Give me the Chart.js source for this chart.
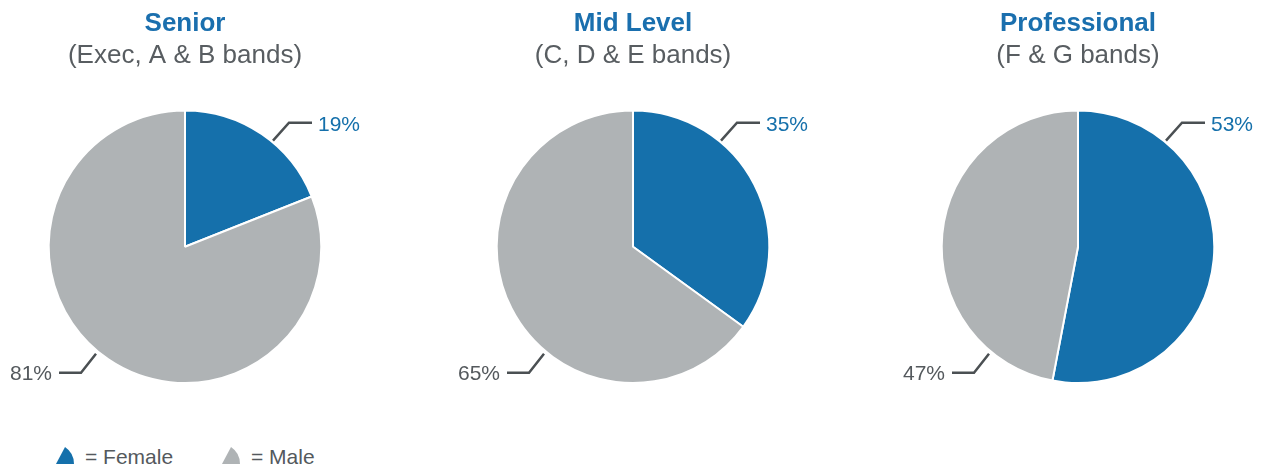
<!DOCTYPE html>
<html>
<head>
<meta charset="utf-8">
<script src="https://cdn.jsdelivr.net/npm/chart.js@4/dist/chart.umd.min.js"></script>
<style>
  html, body { margin: 0; padding: 0; background: #fff; }
  body { width: 1264px; height: 469px; position: relative; overflow: hidden; font-family: "Liberation Sans", Arial, sans-serif; }
  .pie { position: absolute; top: 0; width: 370px; height: 400px; }
  .legend { position: absolute; left: 56px; top: 445px; font-size: 21px; color: #54595d; white-space: nowrap; }
  .legend span { display: inline-block; vertical-align: top; line-height: 24px; }
  .legend svg { vertical-align: top; margin-top: 2px; margin-right: 11px; }
</style>
</head>
<body>
<div class="pie" style="left:0px"><canvas id="c0"></canvas></div>
<div class="pie" style="left:448px"><canvas id="c1"></canvas></div>
<div class="pie" style="left:893px"><canvas id="c2"></canvas></div>
<div class="legend">
  <svg width="18" height="18" viewBox="0 0 18 18"><path d="M9,0 L0,17 L18,17 Q18,6 9,0 Z" fill="#1570ab"/></svg><span style="width:137px">= Female</span><svg width="18" height="18" viewBox="0 0 18 18"><path d="M9,0 L0,17 L18,17 Q18,6 9,0 Z" fill="#afb3b5"/></svg><span>= Male</span>
</div>
<script>
// groups and their share of women / men (percent)
const groups = ["Senior", "Mid Level", "Professional"];
const bands = ["(Exec, A & B bands)", "(C, D & E bands)", "(F & G bands)"];
const genders = ["Female", "Male"];
const female = [19, 35, 53];
const male = [81, 65, 47];

const blue = "#1570ab";
const grey = "#afb3b5";

Chart.defaults.font.family = '"Liberation Sans", Arial, sans-serif';

// leader lines + percentage labels
const leaderLabels = {
  id: "leaderLabels",
  afterDatasetsDraw(chart) {
    const arc = chart.getDatasetMeta(0).data[0];
    const cx = arc.x, cy = arc.y;
    const vals = chart.data.datasets[0].data;
    const ctx = chart.ctx;
    ctx.save();
    ctx.strokeStyle = "#4b5053";
    ctx.lineWidth = 2.5;
    ctx.font = '21px "Liberation Sans", Arial, sans-serif';
    ctx.textBaseline = "middle";

    // female, upper right
    ctx.beginPath();
    ctx.moveTo(cx + 88, cy - 106);
    ctx.lineTo(cx + 104, cy - 124);
    ctx.lineTo(cx + 127, cy - 124);
    ctx.stroke();
    ctx.fillStyle = blue;
    ctx.textAlign = "left";
    ctx.fillText(vals[0] + "%", cx + 133, cy - 121);

    // male, lower left
    ctx.beginPath();
    ctx.moveTo(cx - 89, cy + 107);
    ctx.lineTo(cx - 104, cy + 126);
    ctx.lineTo(cx - 126, cy + 126);
    ctx.stroke();
    ctx.fillStyle = "#54595d";
    ctx.textAlign = "right";
    ctx.fillText(vals[1] + "%", cx - 133, cy + 128);
    ctx.restore();
  }
};

groups.forEach((g, i) => {
  new Chart(document.getElementById("c" + i), {
    type: "pie",
    data: {
      labels: genders,
      datasets: [{
        data: [female[i], male[i]],
        backgroundColor: [blue, grey],
        borderColor: "#ffffff",
        borderWidth: 2
      }]
    },
    options: {
      responsive: true,
      maintainAspectRatio: false,
      animation: false,
      layout: { padding: { top: 0, bottom: 16, left: 0, right: 0 } },
      plugins: {
        legend: { display: false },
        tooltip: { enabled: false },
        title: {
          display: true,
          text: g,
          color: "#1a6fae",
          font: { size: 26, weight: "bold" },
          padding: { top: 8, bottom: 0 }
        },
        subtitle: {
          display: true,
          text: bands[i],
          color: "#585d61",
          font: { size: 26, weight: "normal" },
          padding: { top: 1, bottom: 38 }
        }
      }
    },
    plugins: [leaderLabels]
  });
});
</script>
</body>
</html>
